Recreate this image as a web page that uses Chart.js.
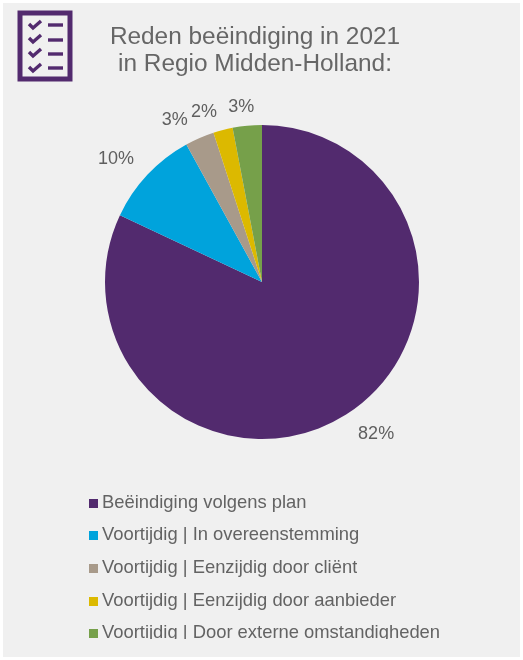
<!DOCTYPE html>
<html>
<head>
<meta charset="utf-8">
<title>Reden beëindiging</title>
<script src="https://cdn.jsdelivr.net/npm/chart.js@4"></script>
<style>
  html, body { margin: 0; padding: 0; background: #fff; }
  #panel { position: absolute; left: 3px; top: 3px; width: 517px; height: 654px; background: #f0f0f0; }
  #wrap { position: absolute; left: 0; top: 0; width: 523px; height: 660px; font-family: "Liberation Sans", Arial, sans-serif; overflow: hidden; filter: blur(0.6px); }
  #chart { position: absolute; left: 0; top: 0; }
  #icon { position: absolute; left: 17px; top: 10px; }
  .title { position: absolute; left: 55px; width: 400px; text-align: center; font-size: 24.4px; line-height: 26px; color: #666; white-space: nowrap; }
  .legend-row { position: absolute; left: 89px; height: 22px; line-height: 22px; font-size: 18.4px; color: #636363; white-space: nowrap; overflow: hidden; }
  .legend-row i { display: inline-block; width: 9px; height: 9px; margin-right: 4px; vertical-align: 0; }
</style>
</head>
<body>
<div id="wrap">
  <div id="panel"></div>
  <svg id="icon" width="57" height="72" viewBox="0 0 57 72">
    <rect x="3" y="3" width="50" height="66" fill="none" stroke="#522a6e" stroke-width="5"/>
    <g fill="none" stroke="#522a6e" stroke-width="3.4">
      <path d="M12 14 l4 4 l8 -7"/><path d="M31 15 h15"/>
      <path d="M12 28 l4 4 l8 -7"/><path d="M31 30 h15"/>
      <path d="M12 42 l4 4 l8 -7"/><path d="M31 44 h15"/>
      <path d="M12 57 l4 4 l8 -7"/><path d="M31 58 h15"/>
    </g>
  </svg>
  <canvas id="chart" width="523" height="660"></canvas>
  <div class="title" style="top:23px">Reden beëindiging in 2021</div>
  <div class="title" style="top:50px">in Regio Midden-Holland:</div>
  <div id="legend"></div>
</div>
<script>
// waarden
const categories = [
  'Beëindiging volgens plan',
  'Voortijdig | In overeenstemming',
  'Voortijdig | Eenzijdig door cliënt',
  'Voortijdig | Eenzijdig door aanbieder',
  'Voortijdig | Door externe omstandigheden'
];
const percentages = [82, 10, 3, 2, 3];
const sliceColors = ['#522a6e', '#00a3dc', '#a89a8a', '#dcb900', '#76a04a'];

// verschuiving van elk label t.o.v. de rand van de taartpunt
const labelShift = [[30, 19], [-31.5, -15], [-25, -17.5], [-19, -17.5], [-6, -18.5]];
const legendTops = [491, 523, 556, 589, 621];

// legenda als gewone tekst
const legendBox = document.getElementById('legend');
categories.forEach((name, i) => {
  const row = document.createElement('div');
  row.className = 'legend-row';
  row.style.top = legendTops[i] + 'px';
  row.innerHTML = '<i style="background:' + sliceColors[i] + '"></i>' + name;
  legendBox.appendChild(row);
});
// onderste regel is in het origineel afgesneden
legendBox.lastChild.style.height = '18px';

const percentLabels = {
  id: 'percentLabels',
  afterDatasetsDraw(chart) {
    const ctx = chart.ctx;
    ctx.save();
    ctx.font = '18px "Liberation Sans", Arial, sans-serif';
    ctx.fillStyle = '#5f5f5f';
    ctx.textAlign = 'center';
    ctx.textBaseline = 'middle';
    chart.getDatasetMeta(0).data.forEach((arc, i) => {
      const mid = (arc.startAngle + arc.endAngle) / 2;
      const x = arc.x + Math.cos(mid) * arc.outerRadius + labelShift[i][0];
      const y = arc.y + Math.sin(mid) * arc.outerRadius + labelShift[i][1];
      ctx.fillText(percentages[i] + '%', x, y);
    });
    ctx.restore();
  }
};

new Chart(document.getElementById('chart'), {
  type: 'pie',
  data: {
    labels: categories,
    datasets: [{
      data: percentages,
      backgroundColor: sliceColors,
      borderWidth: 0
    }]
  },
  options: {
    responsive: false,
    animation: false,
    layout: { padding: { left: 105, right: 104, top: 125, bottom: 221 } },
    plugins: {
      legend: { display: false },
      tooltip: { enabled: false }
    }
  },
  plugins: [percentLabels]
});
</script>
</body>
</html>
